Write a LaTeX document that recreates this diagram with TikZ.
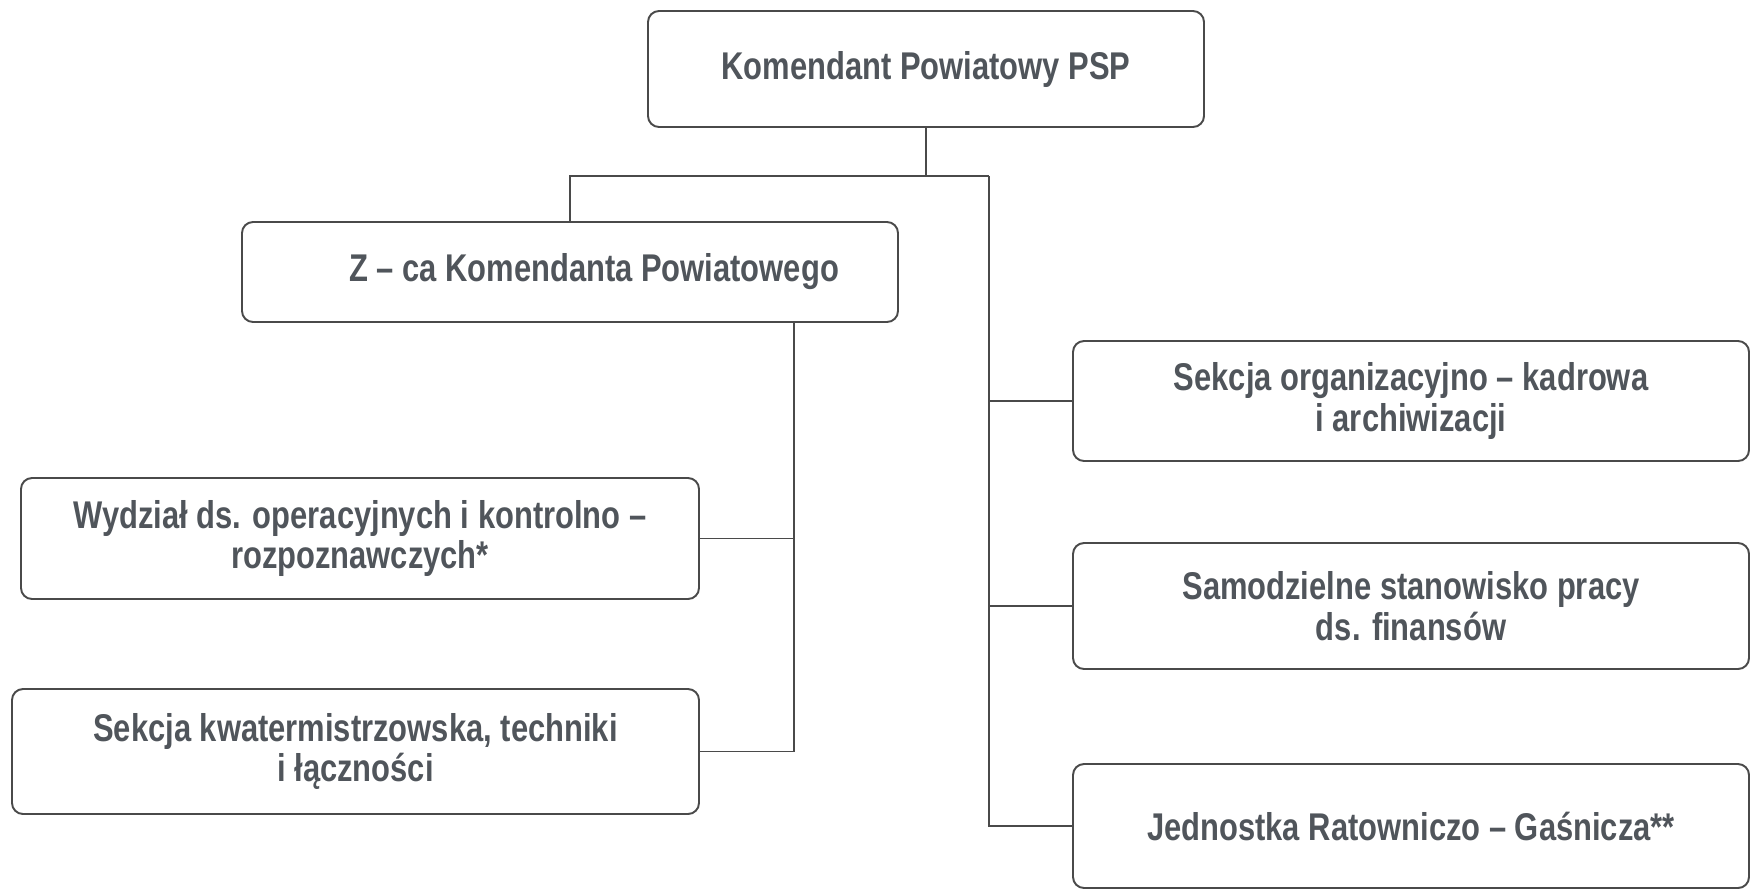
\documentclass[tikz,border=0pt]{standalone}
\usepackage{fontspec}
\setmainfont{Liberation Sans}[FakeStretch=0.8]
\definecolor{ink}{HTML}{50555B}
\definecolor{wire}{HTML}{4A4A4A}

\tikzstyle{unit} = [rectangle, rounded corners=0.22cm, draw=wire, line width=1.1pt, text=ink, align=center, font=\fontsize{22}{23}\selectfont\bfseries, inner sep=0pt]
\tikzstyle{link} = [draw=wire, line width=1.1pt]

\begin{document}
\begin{tikzpicture}
			\useasboundingbox (0,0) rectangle (35.02,-17.8);
			\node (0) [unit, minimum width=11.12cm, minimum height=2.32cm] at (18.52,-1.38) {Komendant Powiatowy PSP};
			\node (1) [unit, minimum width=13.12cm, minimum height=2.0cm] at (11.4,-5.44) {\hspace*{0.96cm}Z -- ca Komendanta Powiatowego};
			\node (2) [unit, minimum width=13.56cm, minimum height=2.42cm] at (7.2,-10.77) {Wydział ds. operacyjnych i kontrolno --\\rozpoznawczych*};
			\node (3) [unit, minimum width=13.74cm, minimum height=2.5cm] at (7.11,-15.03) {Sekcja kwatermistrzowska, techniki\\i łączności};
			\node (4) [unit, minimum width=13.52cm, minimum height=2.4cm] at (28.22,-8.02) {Sekcja organizacyjno -- kadrowa\\i archiwizacji};
			\node (5) [unit, minimum width=13.52cm, minimum height=2.52cm] at (28.22,-12.12) {Samodzielne stanowisko pracy\\ds. finansów};
			\node (6) [unit, minimum width=13.52cm, minimum height=2.48cm] at (28.22,-16.52) {Jednostka Ratowniczo -- Gaśnicza**};

			\coordinate (b) at (19.78,-3.52);
			\coordinate (z) at ([xshift=-2.1cm]1.south east);

			\draw [link] (0.south) -- (0.south |- b);
			\draw [link] (1.north) |- (b);
			\draw [link] (b) |- (4.west);
			\draw [link] (b) |- (5.west);
			\draw [link] (b) |- (6.west);
			\draw [link] (z) |- (2.east);
			\draw [link] (z) |- (3.east);
		\end{tikzpicture}
\end{document}
